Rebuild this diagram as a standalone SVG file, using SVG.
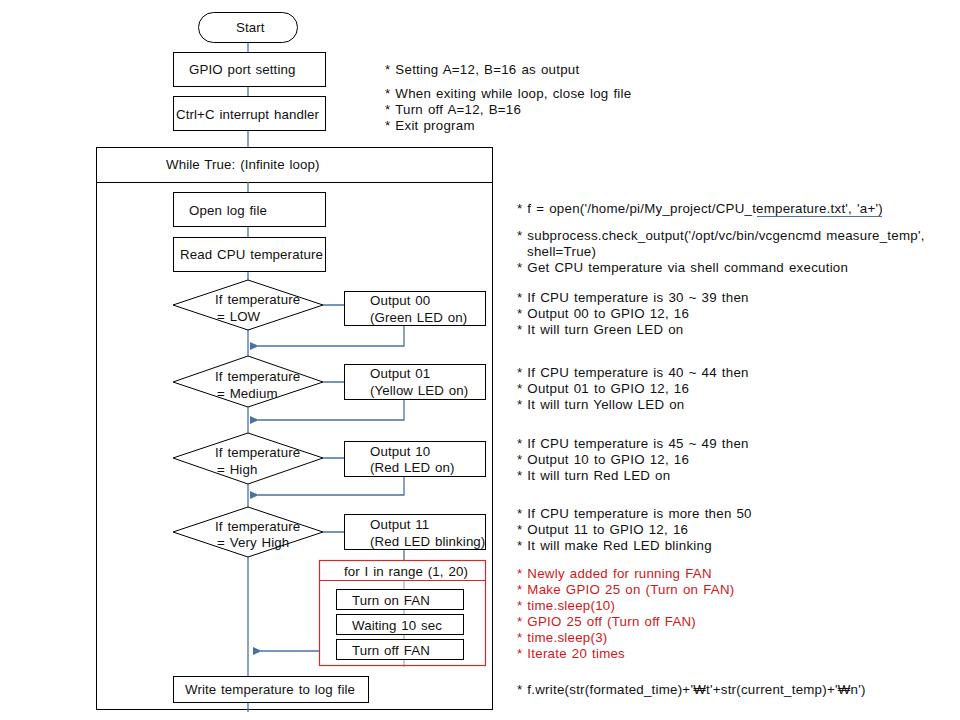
<svg xmlns="http://www.w3.org/2000/svg" width="960" height="720" viewBox="0 0 960 720">
<style>
text{font-family:"Liberation Sans","Noto Sans CJK KR",sans-serif;font-size:13.3px;letter-spacing:0.1px;word-spacing:1px;fill:#111}
#notes text{letter-spacing:0.25px}
.box{fill:#fff;stroke:#000;stroke-width:1}
.red{fill:none;stroke:#d42a2a;stroke-width:1.2}
.con{fill:none;stroke:#4a72a0;stroke-width:1.3}
.thin{fill:none;stroke:#8a9ab0;stroke-width:1}
.r{fill:#d01818}
</style>
<defs>
<marker id="ah" markerWidth="10" markerHeight="8" refX="1" refY="4" orient="auto-start-reverse" markerUnits="userSpaceOnUse">
<path d="M0,4 L9,0 L9,8 Z" fill="#4a72a0"/>
</marker>
</defs>
<rect width="960" height="720" fill="#fff"/>
<g id="loop-frame">
<rect class="box" x="96.5" y="147.5" width="396" height="562"/>
<line x1="96" y1="182.5" x2="493" y2="182.5" stroke="#000"/>
<text x="166" y="169">While True: (Infinite loop)</text>
</g>
<g id="connectors">
<path class="con" d="M248,42 V52 M248,86 V96 M248,130 V147 M248,182 V192 M248,227 V237 M248,271 V280 M248,330 V356 M248,407 V433 M248,484 V507 M248,557 V676 M248,702 V712"/>
<path class="con" d="M323,305 H344 M323,382 H344 M323,458 H344 M323,532 H344"/>
<path class="con" d="M404,326 V346 H258" marker-end="url(#ah)"/>
<path class="con" d="M404,400 V420 H258" marker-end="url(#ah)"/>
<path class="con" d="M404,476 V495 H258" marker-end="url(#ah)"/>
<path class="con" d="M404,549 V560"/>
<path class="con" d="M319,651 H261" marker-end="url(#ah)"/>
<path class="thin" d="M404,580 V667"/>
</g>
<g id="start">
<rect class="box" x="198.5" y="12.5" width="99" height="30" rx="15"/>
<text x="236" y="32">Start</text>
</g>
<g id="gpio">
<rect class="box" x="173.5" y="52.5" width="152" height="34"/>
<text x="189" y="74">GPIO port setting</text>
</g>
<g id="ctrlc">
<rect class="box" x="173.5" y="96.5" width="152" height="34"/>
<text x="176" y="119">Ctrl+C interrupt handler</text>
</g>
<g id="openlog">
<rect class="box" x="173.5" y="192.5" width="152" height="34"/>
<text x="189" y="215">Open log file</text>
</g>
<g id="readcpu">
<rect class="box" x="173.5" y="237.5" width="152" height="34"/>
<text x="180" y="259">Read CPU temperature</text>
</g>
<g id="d-low">
<polygon class="box" points="248,280 323,305 248,330 173,305"/>
<text x="215" y="304">If temperature</text>
<text x="217" y="321">= LOW</text>
</g>
<g id="o-00">
<rect class="box" x="344.5" y="291.5" width="141" height="34"/>
<text x="370" y="305">Output 00</text>
<text x="370" y="322">(Green LED on)</text>
</g>
<g id="d-medium">
<polygon class="box" points="248,356 323,382 248,407 173,382"/>
<text x="215" y="381">If temperature</text>
<text x="217" y="398">= Medium</text>
</g>
<g id="o-01">
<rect class="box" x="344.5" y="364.5" width="141" height="35"/>
<text x="370" y="378">Output 01</text>
<text x="370" y="395">(Yellow LED on)</text>
</g>
<g id="d-high">
<polygon class="box" points="248,433 323,458 248,484 173,458"/>
<text x="215" y="457">If temperature</text>
<text x="217" y="474">= High</text>
</g>
<g id="o-10">
<rect class="box" x="344.5" y="441.5" width="141" height="35"/>
<text x="370" y="456">Output 10</text>
<text x="370" y="472">(Red LED on)</text>
</g>
<g id="d-veryhigh">
<polygon class="box" points="248,507 323,532 248,557 173,532"/>
<text x="215" y="531">If temperature</text>
<text x="217" y="547">= Very High</text>
</g>
<g id="o-11">
<rect class="box" x="344.5" y="514.5" width="141" height="35"/>
<text x="370" y="529">Output 11</text>
<text x="370" y="546">(Red LED blinking)</text>
</g>
<g id="for-loop">
<rect class="red" x="319.5" y="560.5" width="166" height="105"/>
<line x1="319" y1="580.5" x2="486" y2="580.5" stroke="#d42a2a" stroke-width="1.2"/>
<text x="344" y="576">for I in range (1, 20)</text>
</g>
<g id="fan-on">
<rect class="box" x="336.5" y="589.5" width="127" height="20"/>
<text x="352" y="605">Turn on FAN</text>
</g>
<g id="wait">
<rect class="box" x="336.5" y="614.5" width="127" height="20"/>
<text x="352" y="630">Waiting 10 sec</text>
</g>
<g id="fan-off">
<rect class="box" x="336.5" y="639.5" width="127" height="20"/>
<text x="352" y="655">Turn off FAN</text>
</g>
<g id="write">
<rect class="box" x="173.5" y="676.5" width="195" height="26"/>
<text x="185" y="694">Write temperature to log file</text>
</g>
<g id="notes">
<text x="385" y="74">* Setting A=12, B=16 as output</text>
<text x="385" y="98">* When exiting while loop, close log file</text>
<text x="385" y="114">* Turn off A=12, B=16</text>
<text x="385" y="130">* Exit program</text>
<text x="517" y="213">* f = open('/home/pi/My_project/CPU_temperature.txt', 'a+')</text>
<line x1="757" y1="216.5" x2="882" y2="216.5" stroke="#4a72a0" stroke-width="1"/>
<text x="517" y="240">* subprocess.check_output('/opt/vc/bin/vcgencmd measure_temp',</text>
<text x="527" y="256">shell=True)</text>
<text x="517" y="272">* Get CPU temperature via shell command execution</text>
<text x="517" y="302">* If CPU temperature is 30 ~ 39 then</text>
<text x="517" y="318">* Output 00 to GPIO 12, 16</text>
<text x="517" y="334">* It will turn Green LED on</text>
<text x="517" y="377">* If CPU temperature is 40 ~ 44 then</text>
<text x="517" y="393">* Output 01 to GPIO 12, 16</text>
<text x="517" y="409">* It will turn Yellow LED on</text>
<text x="517" y="448">* If CPU temperature is 45 ~ 49 then</text>
<text x="517" y="464">* Output 10 to GPIO 12, 16</text>
<text x="517" y="480">* It will turn Red LED on</text>
<text x="517" y="518">* If CPU temperature is more then 50</text>
<text x="517" y="534">* Output 11 to GPIO 12, 16</text>
<text x="517" y="550">* It will make Red LED blinking</text>
<text class="r" x="517" y="578">* Newly added for running FAN</text>
<text class="r" x="517" y="594">* Make GPIO 25 on (Turn on FAN)</text>
<text class="r" x="517" y="610">* time.sleep(10)</text>
<text class="r" x="517" y="626">* GPIO 25 off (Turn off FAN)</text>
<text class="r" x="517" y="642">* time.sleep(3)</text>
<text class="r" x="517" y="658">* Iterate 20 times</text>
<text x="517" y="694">* f.write(str(formated_time)+'₩t'+str(current_temp)+'₩n')</text>
</g>
</svg>
